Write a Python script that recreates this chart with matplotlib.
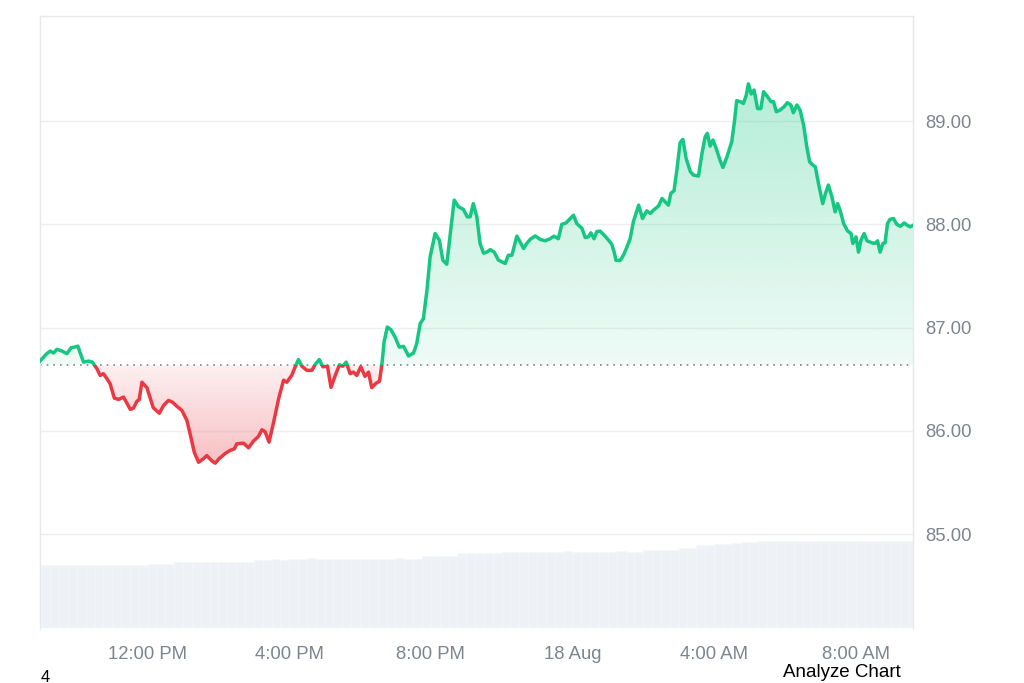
import numpy as np
import matplotlib.pyplot as plt
from matplotlib.path import Path
from matplotlib.patches import Rectangle

plt.rcParams['font.family'] = ['Liberation Sans', 'DejaVu Sans']

# hours counted from 00:00 on 17 Aug
hours = [8.96, 9.15, 9.25, 9.34, 9.44, 9.58, 9.72, 9.84, 9.93, 10.03,
         10.09, 10.19, 10.33, 10.44, 10.57, 10.66, 10.75, 10.85, 10.94, 11.06,
         11.18, 11.32, 11.51, 11.60, 11.70, 11.76, 11.84, 11.98, 12.16, 12.33,
         12.45, 12.59, 12.70, 12.83, 12.97, 13.11, 13.20, 13.32, 13.44, 13.58,
         13.67, 13.81, 13.91, 14.02, 14.19, 14.33, 14.45, 14.52, 14.71, 14.85,
         14.99, 15.13, 15.23, 15.32, 15.43, 15.57, 15.70, 15.84, 15.93, 16.07,
         16.17, 16.26, 16.36, 16.50, 16.64, 16.73, 16.85, 16.95, 17.08, 17.18,
         17.30, 17.42, 17.51, 17.61, 17.72, 17.81, 17.91, 18.02, 18.14, 18.24,
         18.33, 18.45, 18.55, 18.62, 18.68, 18.77, 18.87, 18.99, 19.11, 19.23,
         19.37, 19.51, 19.60, 19.70, 19.79, 19.89, 19.98, 20.12, 20.24, 20.34,
         20.45, 20.55, 20.66, 20.78, 20.92, 21.03, 21.11, 21.20, 21.30, 21.39,
         21.49, 21.58, 21.68, 21.79, 21.91, 22.01, 22.10, 22.19, 22.29, 22.43,
         22.52, 22.62, 22.71, 22.81, 22.95, 23.09, 23.23, 23.37, 23.48, 23.60,
         23.70, 23.82, 23.94, 24.03, 24.12, 24.27, 24.36, 24.45, 24.52, 24.61,
         24.69, 24.78, 24.90, 25.02, 25.11, 25.18, 25.23, 25.35, 25.44, 25.54,
         25.63, 25.72, 25.87, 25.98, 26.10, 26.20, 26.29, 26.43, 26.53, 26.62,
         26.71, 26.78, 26.87, 26.95, 27.04, 27.12, 27.21, 27.33, 27.42, 27.56,
         27.66, 27.75, 27.81, 27.89, 27.97, 28.06, 28.17, 28.25, 28.36, 28.50,
         28.57, 28.64, 28.74, 28.83, 28.91, 28.97, 29.05, 29.13, 29.23, 29.32,
         29.40, 29.51, 29.61, 29.68, 29.76, 29.87, 29.98, 30.07, 30.17, 30.24,
         30.34, 30.43, 30.53, 30.62, 30.70, 30.79, 30.86, 30.95, 31.07, 31.14,
         31.23, 31.33, 31.42, 31.49, 31.56, 31.66, 31.77, 31.87, 31.92, 32.01,
         32.08, 32.15, 32.24, 32.32, 32.46, 32.55, 32.62, 32.69, 32.77, 32.83,
         32.90, 32.97, 33.07, 33.16, 33.26, 33.37, 33.46, 33.54, 33.62]

price = [86.675, 86.747, 86.772, 86.753, 86.789, 86.772, 86.747, 86.805, 86.81, 86.82,
         86.76, 86.665, 86.675, 86.665, 86.60, 86.536, 86.553, 86.505, 86.456, 86.316,
         86.304, 86.326, 86.207, 86.22, 86.287, 86.30, 86.47, 86.417, 86.223, 86.17,
         86.245, 86.294, 86.277, 86.236, 86.197, 86.10, 85.97, 85.79, 85.695, 85.73,
         85.76, 85.71, 85.686, 85.73, 85.78, 85.81, 85.825, 85.874, 85.88, 85.835,
         85.90, 85.945, 86.01, 85.99, 85.89, 86.10, 86.31, 86.49, 86.47, 86.536,
         86.62, 86.69, 86.624, 86.585, 86.585, 86.64, 86.69, 86.62, 86.625, 86.42,
         86.536, 86.64, 86.625, 86.665, 86.553, 86.568, 86.536, 86.62, 86.527, 86.568,
         86.417, 86.46, 86.48, 86.65, 86.86, 87.005, 86.98, 86.908, 86.81, 86.818,
         86.724, 86.753, 86.844, 87.038, 87.086, 87.36, 87.684, 87.91, 87.846, 87.652,
         87.613, 87.91, 88.234, 88.17, 88.144, 88.072, 88.072, 88.20, 88.07, 87.814,
         87.72, 87.73, 87.755, 87.73, 87.652, 87.636, 87.62, 87.70, 87.70, 87.885,
         87.83, 87.765, 87.814, 87.855, 87.887, 87.853, 87.84, 87.86, 87.885, 87.86,
         88.00, 88.013, 88.056, 88.088, 88.008, 87.96, 87.872, 87.878, 87.917, 87.86,
         87.93, 87.934, 87.893, 87.846, 87.807, 87.73, 87.65, 87.65, 87.70, 87.78,
         87.86, 88.023, 88.185, 88.056, 88.13, 88.105, 88.137, 88.176, 88.25, 88.217,
         88.185, 88.30, 88.325, 88.525, 88.79, 88.822, 88.64, 88.51, 88.476, 88.467,
         88.687, 88.848, 88.88, 88.757, 88.816, 88.735, 88.62, 88.55, 88.648, 88.80,
         88.977, 89.197, 89.187, 89.17, 89.25, 89.36, 89.262, 89.30, 89.12, 89.12,
         89.284, 89.236, 89.187, 89.187, 89.09, 89.107, 89.139, 89.178, 89.155, 89.08,
         89.155, 89.107, 88.96, 88.75, 88.605, 88.573, 88.557, 88.396, 88.20, 88.29,
         88.38, 88.266, 88.12, 88.20, 88.137, 88.008, 87.936, 87.91, 87.814, 87.878,
         87.73, 87.846, 87.91, 87.84, 87.82, 87.814, 87.84, 87.73, 87.814, 87.82,
         88.008, 88.047, 88.056, 88.00, 87.98, 88.013, 87.99, 87.975, 87.99]

open_price = 86.633

# volume per 15 min bucket, starting 09:00
volume = [103.6, 103.6, 103.5, 103.6, 103.6, 103.7, 103.6, 103.6, 103.5, 103.6,
          103.6, 103.6, 105.0, 105.1, 105.0, 108.0, 108.0, 108.1, 108.0, 108.0,
          107.9, 108.0, 108.0, 108.1, 111.9, 111.9, 112.0, 111.9, 113.5, 113.5,
          113.6, 113.5, 113.5, 113.0, 113.0, 112.9, 113.0, 113.0, 113.5, 113.5,
          113.6, 113.5, 113.5, 117.5, 117.5, 117.6, 117.5, 121.9, 121.9, 122.0,
          121.9, 121.9, 123.5, 123.5, 123.6, 123.5, 123.5, 125.0, 125.0, 125.1,
          125.0, 125.0, 124.9, 125.0, 125.0, 125.1, 125.0, 125.0, 127.4, 127.4,
          127.5, 127.4, 130.0, 130.0, 135.0, 135.0, 138.0, 138.0, 138.1, 141.0,
          141.0, 142.0, 142.0, 142.1, 142.0, 142.0, 141.9, 142.0, 142.0, 142.1,
          142.0, 142.0, 142.0, 141.9, 142.0, 142.0, 142.1, 142.0, 142.0]
vol_time = np.arange(len(volume)) * 0.25 + 9.0

tick_hours = [12, 16, 20, 24, 28, 32]
tick_labels = ['12:00 PM', '4:00 PM', '8:00 PM', '18 Aug', '4:00 AM', '8:00 AM']
price_ticks = [85, 86, 87, 88, 89]

green = '#16c784'
red = '#ea3943'
xmin, xmax = 8.96, 33.62
ymin, ymax = 84.09, 90.017

fig = plt.figure(figsize=(10.24, 6.83), dpi=100)
rect = [40 / 1024, 1 - 628 / 683, 873 / 1024, 612 / 683]

# volume in the background
axv = fig.add_axes(rect)
axv.bar(vol_time, volume, width=0.25, align='edge', color='#eef1f5',
        edgecolor='#f5f7f9', linewidth=0.4)
axv.set_xlim(xmin, xmax)
axv.set_ylim(0, 1000)
axv.axis('off')

ax = fig.add_axes(rect)
ax.set_facecolor('none')

t = np.array(hours)
p = np.array(price)


def gradient_fill(mask, color, top, bottom, a_top, a_bottom):
    coll = ax.fill_between(t, p, open_price, where=mask, interpolate=True,
                           facecolor='none', edgecolor='none')
    clip = Path.make_compound_path(*coll.get_paths())
    grad = np.zeros((256, 1, 4))
    grad[:, :, :3] = plt.matplotlib.colors.to_rgb(color)
    grad[:, 0, 3] = np.linspace(a_top, a_bottom, 256)
    im = ax.imshow(grad, extent=(xmin, xmax, bottom, top), origin='upper',
                   aspect='auto', zorder=1, interpolation='bilinear')
    im.set_clip_path(clip, transform=ax.transData)


gradient_fill(p >= open_price, green, p.max(), open_price, 0.32, 0.07)
gradient_fill(p <= open_price, red, open_price, p.min(), 0.08, 0.32)

up, = ax.plot(t, p, color=green, lw=2.5, zorder=3, solid_joinstyle='round')
up.set_clip_path(Rectangle((xmin, open_price), xmax - xmin, 10, transform=ax.transData))
down, = ax.plot(t, p, color=red, lw=2.5, zorder=3, solid_joinstyle='round')
down.set_clip_path(Rectangle((xmin, open_price - 10), xmax - xmin, 10, transform=ax.transData))

ax.axhline(open_price, color='#80858d', ls=(0, (1, 3)), lw=1.2, zorder=2)

ax.set_xlim(xmin, xmax)
ax.set_ylim(ymin, ymax)
ax.set_xticks(tick_hours)
ax.set_xticklabels(tick_labels)
ax.set_yticks(price_ticks)
ax.set_yticklabels([f'{v:.2f}' for v in price_ticks])
ax.yaxis.tick_right()
ax.tick_params(axis='y', length=0, pad=9, labelsize=13.3, labelcolor='#7d8490')
ax.tick_params(axis='x', length=0, pad=13, labelsize=13.3, labelcolor='#7d8490')
ax.grid(axis='y', color='#eceff2', lw=1, zorder=0)
ax.set_axisbelow(True)
for side in ['top', 'left', 'right']:
    ax.spines[side].set_color('#e6e8eb')
    ax.spines[side].set_linewidth(1)
ax.spines['bottom'].set_visible(False)

fig.text(41 / 1024, 1 - 682 / 683, '4', fontsize=12, color='black', ha='left', va='baseline')
fig.text(901 / 1024, 1 - 677 / 683, 'Analyze Chart', fontsize=13.5, color='black',
         ha='right', va='baseline')

fig.savefig('out.png', dpi=100, facecolor='white')
